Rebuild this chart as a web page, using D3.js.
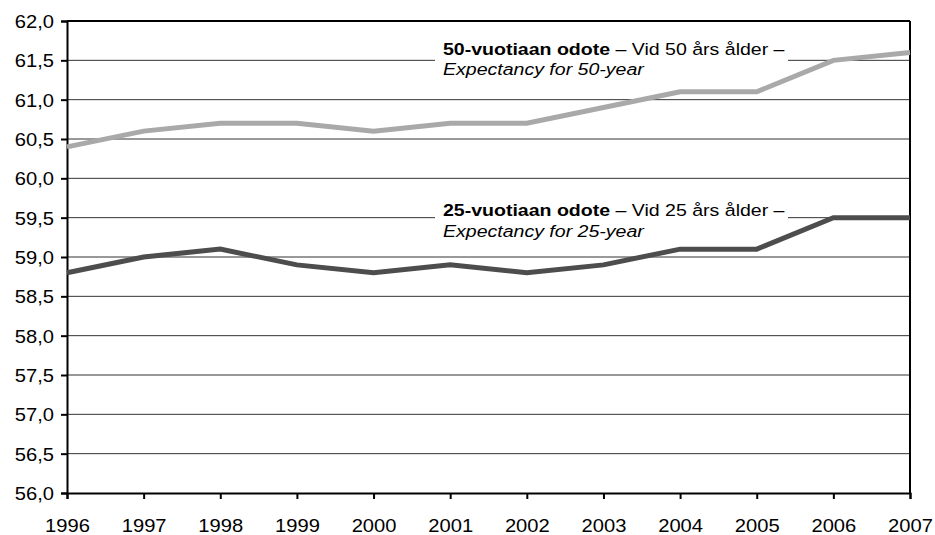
<!DOCTYPE html>
<html><head><meta charset="utf-8">
<script src="https://cdn.jsdelivr.net/npm/d3@7"></script>
<style>body{margin:0;background:#fff}svg{display:block}text{font-family:"Liberation Sans",Arial,sans-serif}</style>
</head><body><svg id="c" width="935" height="535"></svg>
<script>
const years = [1996,1997,1998,1999,2000,2001,2002,2003,2004,2005,2006,2007];
const age50 = [60.4,60.6,60.7,60.7,60.6,60.7,60.7,60.9,61.1,61.1,61.5,61.6];
const age25 = [58.8,59.0,59.1,58.9,58.8,58.9,58.8,58.9,59.1,59.1,59.5,59.5];
const yTicks = [56.0,56.5,57.0,57.5,58.0,58.5,59.0,59.5,60.0,60.5,61.0,61.5,62.0];
const labels = [
  {bold:"50-vuotiaan odote", rest:" – Vid 50 års ålder –", italic:"Expectancy for 50-year", anchor:61.5, d1:-5, d2:15},
  {bold:"25-vuotiaan odote", rest:" – Vid 25 års ålder –", italic:"Expectancy for 25-year", anchor:59.5, d1:-2, d2:19}
];

const svg = d3.select("#c");
const L=67,R=910,T=21,B=493;
const SX=1.12, SXA=1.15;
const x = d3.scaleLinear().domain([1996,2007]).range([L,R]);
const y = d3.scaleLinear().domain([56,62]).range([B,T]);
const fmt = d => d.toFixed(1).replace(".",",");

// gridlines
svg.append("g").selectAll("line").data(yTicks.filter(v=>v>56&&v<62)).join("line")
  .attr("x1",L).attr("x2",R).attr("y1",d=>y(d)).attr("y2",d=>y(d))
  .attr("stroke","#333").attr("stroke-width",1);

// frame: top and right
svg.append("line").attr("x1",L).attr("x2",R).attr("y1",T).attr("y2",T).attr("stroke","#000").attr("stroke-width",2);
svg.append("line").attr("x1",R).attr("x2",R).attr("y1",T).attr("y2",B).attr("stroke","#000").attr("stroke-width",2);

// y axis
const ya = svg.append("g").attr("transform",`translate(${L},0)`)
  .call(d3.axisLeft(y).tickValues(yTicks).tickFormat(fmt).tickSize(6).tickPadding(6));
ya.select(".domain").attr("stroke","#000").attr("stroke-width",2);
ya.selectAll(".tick line").attr("stroke","#000").attr("stroke-width",2);
ya.selectAll(".tick text").attr("x",null).attr("dy",null)
  .attr("font-size",18).attr("fill","#000").attr("font-family","Liberation Sans, Arial, sans-serif")
  .attr("text-anchor","end")
  .attr("transform",`translate(-13,6.5) scale(${SX},1)`);

// x axis
const xa = svg.append("g").attr("transform",`translate(0,${B})`)
  .call(d3.axisBottom(x).tickValues(years).tickFormat(d3.format("d")).tickSize(6).tickPadding(14));
xa.select(".domain").attr("stroke","#000").attr("stroke-width",2);
xa.selectAll(".tick line").attr("stroke","#000").attr("stroke-width",2);
xa.selectAll(".tick text").attr("y",null).attr("dy",null)
  .attr("font-size",18).attr("fill","#000").attr("font-family","Liberation Sans, Arial, sans-serif")
  .attr("text-anchor","middle")
  .attr("transform",`translate(0,39) scale(${SX},1)`);

// label boxes
labels.forEach(lb=>{
  const yy = y(lb.anchor);
  svg.append("rect").attr("x",435).attr("y",yy-24).attr("width",353).attr("height",50).attr("fill","#fff");
  const t = svg.append("text").attr("transform",`translate(443,${yy+lb.d1}) scale(${SXA},1)`).attr("font-size",17).attr("fill","#000");
  t.append("tspan").attr("font-weight","bold").text(lb.bold);
  t.append("tspan").text(lb.rest);
  svg.append("text").attr("transform",`translate(443,${yy+lb.d2}) scale(${SXA},1)`).attr("font-size",17).attr("font-style","italic").attr("fill","#000").text(lb.italic);
});

// lines
const line = vals => d3.line().x((d,i)=>x(years[i])).y(d=>y(d))(vals);
svg.append("path").attr("d",line(age50)).attr("fill","none").attr("stroke","#a9a9a9").attr("stroke-width",5);
svg.append("path").attr("d",line(age25)).attr("fill","none").attr("stroke","#4d4d4d").attr("stroke-width",5);
</script></body></html>
